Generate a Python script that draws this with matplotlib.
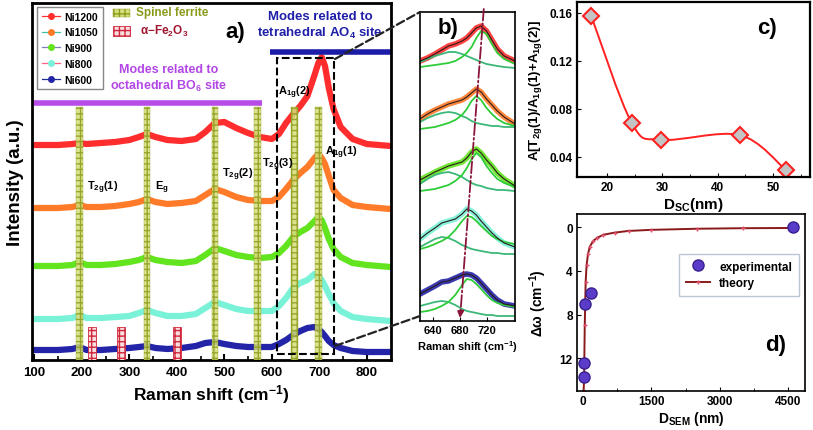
import numpy as np
import matplotlib.pyplot as plt
from matplotlib.lines import Line2D
from matplotlib.patches import Rectangle, PathPatch, ConnectionPatch
from matplotlib.path import Path

plt.rcParams['font.family'] = ['Liberation Sans', 'DejaVu Sans']
plt.rcParams['font.weight'] = 'bold'
plt.rcParams['axes.labelweight'] = 'bold'
plt.rcParams['mathtext.fontset'] = 'custom'
plt.rcParams['mathtext.rm'] = 'Liberation Sans:bold'
plt.rcParams['mathtext.bf'] = 'Liberation Sans:bold'
plt.rcParams['mathtext.it'] = 'Liberation Sans:bold'
plt.rcParams['mathtext.default'] = 'bf'

# ---- panel a: Raman spectra (offset, arbitrary units) ----
shift = [95, 120, 150, 180, 195, 210, 240, 270, 300, 320, 337, 355, 380, 410, 440, 460, 480,
         500, 525, 550, 575, 600, 615, 630, 645, 660, 675, 690, 698, 705, 712, 720, 730, 745,
         770, 800, 850]
ni1200 = [211, 211, 211, 212, 213, 212, 213, 214, 216, 219, 222, 219, 216, 215, 217, 224, 233,
          234, 228, 223, 219, 217, 222, 233, 242, 250, 260, 281, 293, 299, 290, 268, 247, 229,
          217, 212, 210]
ni1050 = [148, 148, 148, 149, 151, 149, 149, 150, 152, 154, 157, 154, 152, 153, 155, 161, 167,
          164, 159, 156, 155, 155, 159, 167, 176, 183, 189, 198, 202, 198, 192, 180, 166, 158,
          151, 149, 147]
ni900 = [90, 90, 90, 91, 94, 91, 91, 92, 94, 96, 99, 96, 94, 93, 95, 101, 108,
         105, 101, 99, 98, 99, 103, 110, 119, 124, 128, 135, 139, 136, 128, 117, 107, 99,
         93, 91, 89]
ni800 = [37, 37, 37, 38, 41, 38, 38, 39, 40, 43, 46, 43, 40, 40, 42, 48, 54,
         51, 47, 45, 45, 45, 50, 58, 68, 73, 76, 82, 80, 76, 70, 62, 53, 45,
         39, 37, 35]
ni600 = [6, 6, 6, 7, 9, 6, 6, 7, 8, 9, 10, 8, 7, 8, 10, 13, 14,
         12, 10, 9, 9, 9, 12, 16, 21, 25, 28, 29, 27, 24, 20, 15, 11, 8,
         5, 4, 4]
samples = ['Ni1200', 'Ni1050', 'Ni900', 'Ni800', 'Ni600']
spinel_modes = [195, 337, 480, 570, 648, 698]
hematite_modes = [222, 282, 400]

# ---- panel b: A1g region, data and two-peak fits ----
b_shift = [621, 632, 643, 653, 663, 673, 683, 690, 697, 704, 711, 719, 727, 735, 745, 761]
b_ni1200 = [10, 13, 17, 21, 25, 27, 30, 33, 38, 43, 45, 40, 31, 22, 15, 10]
b_ni1200_p1 = [9, 12, 15, 17, 19, 19, 17, 15, 13, 11, 9, 7, 6, 5, 4, 3]
b_ni1200_p2 = [4, 5, 6, 7, 8, 10, 14, 18, 24, 33, 40, 37, 27, 18, 12, 7]
b_ni1050 = [13, 18, 22, 25, 28, 30, 32, 35, 39, 43, 40, 33, 27, 21, 15, 8]
b_ni1050_p1 = [10, 14, 17, 19, 20, 19, 16, 14, 11, 9, 8, 7, 6, 6, 5, 5]
b_ni1050_p2 = [3, 4, 5, 7, 9, 12, 17, 23, 31, 36, 32, 24, 18, 13, 9, 6]
b_ni900 = [15, 19, 23, 26, 29, 31, 33, 37, 43, 46, 42, 35, 29, 22, 16, 9]
b_ni900_p1 = [11, 16, 20, 22, 23, 21, 18, 15, 12, 10, 9, 7, 6, 5, 5, 4]
b_ni900_p2 = [4, 5, 6, 8, 10, 14, 20, 27, 36, 42, 38, 29, 22, 16, 12, 8]
b_ni800 = [18, 24, 29, 34, 36, 38, 43, 48, 46, 42, 36, 30, 24, 19, 14, 10]
b_ni800_p1 = [10, 14, 18, 20, 19, 16, 12, 10, 8, 7, 6, 5, 4, 4, 3, 3]
b_ni800_p2 = [8, 10, 13, 16, 20, 27, 36, 41, 40, 36, 31, 26, 21, 18, 15, 13]
b_ni600 = [27, 31, 35, 39, 40, 43, 46, 47, 46, 43, 38, 32, 26, 21, 17, 15]
b_ni600_p1 = [15, 17, 19, 20, 19, 16, 12, 10, 9, 8, 7, 6, 6, 5, 5, 5]
b_ni600_p2 = [9, 10, 12, 15, 19, 26, 36, 42, 41, 37, 32, 26, 21, 18, 16, 14]

# ---- panel c: area ratio vs crystallite size ----
d_sc = [17.2, 24.5, 29.8, 44.0, 52.3]
area_ratio = [0.157, 0.068, 0.054, 0.058, 0.029]

# ---- panel d: Raman shift vs particle size ----
d_sem_exp = [20, 30, 40, 170, 4600]
dw_exp = [13.7, 12.4, 7.0, 6.0, 0.0]
d_sem_th = [15, 25, 40, 60, 80, 110, 150, 220, 300, 450, 700, 1000, 1500, 2500, 3500, 4600]
dw_th = [15, 14, 9, 5, 3.5, 2.5, 1.8, 1.3, 1.0, 0.7, 0.5, 0.35, 0.25, 0.15, 0.1, 0.08]

colors = ['#ff2d2d', '#ff7b29', '#62e41e', '#7af2d8', '#2424a8']
legend_line_colors = ['#ff3030', '#40c0a0', '#8080c0', '#ff6080', '#203090']


def smooth_path(xs, ys):
    # Catmull-Rom style Bezier through the points
    pts = np.column_stack([xs, ys])
    p = np.vstack([pts[0], pts, pts[-1]])
    verts = [pts[0]]
    codes = [Path.MOVETO]
    for i in range(1, len(p) - 2):
        c1 = p[i] + (p[i + 1] - p[i - 1]) / 6
        c2 = p[i + 1] - (p[i + 2] - p[i]) / 6
        verts += [c1, c2, p[i + 1]]
        codes += [Path.CURVE4] * 3
    return Path(verts, codes)


fig = plt.figure(figsize=(8.13, 4.31), dpi=100)
W, H = 813, 431


def place(l, t, r, b):
    return [l / W, 1 - b / H, (r - l) / W, (b - t) / H]


# ================= panel a =================
axa = fig.add_axes(place(32, 4, 391, 361))
spectra = [ni1200, ni1050, ni900, ni800, ni600]
for y, c in zip(spectra, colors):
    axa.plot(shift, y, color=c, lw=4.5, solid_capstyle='round', zorder=2)

axa.bar(spinel_modes, 253, width=14, bottom=-4, color='#d6df7a', edgecolor='#8d9c1c',
        hatch='+++', lw=0.3, alpha=0.85, zorder=3)
axa.bar(hematite_modes, 33, width=17, bottom=-4, color='#f8dede', edgecolor='#d0283c',
        hatch='+++', lw=0.6, zorder=3)

axa.plot([95, 579], [253, 253], color='#b84ce8', lw=4, solid_capstyle='butt')
axa.plot([597, 851], [304, 304], color='#1c1ca8', lw=4, solid_capstyle='butt')
axa.add_patch(Rectangle((610, 2), 121, 296, fill=False, ls='--', lw=1.5, ec='k', zorder=4))

axa.text(382, 278, 'Modes related to\noctahedral BO$_6$ site', color='#b347e6', fontsize=9,
         ha='center', va='center', linespacing=1.25)
axa.text(702, 331, 'Modes related to\ntetrahedral AO$_4$ site', color='#1f1fa8', fontsize=9.5,
         ha='center', va='center', linespacing=1.2)

mode_labels = [(210, 169, 'T$_{2g}$(1)'), (354, 169, 'E$_g$'), (495, 182, 'T$_{2g}$(2)'),
               (579, 192, 'T$_{2g}$(3)'), (613, 264, 'A$_{1g}$(2)'), (712, 204, 'A$_{1g}$(1)')]
for x, y, s in mode_labels:
    axa.text(x, y, s, fontsize=8, ha='left', va='center', zorder=5)

handles = [Line2D([], [], color=lc, lw=0.9, marker='o', ms=4, mfc=c, mec=c)
           for lc, c in zip(legend_line_colors, colors)]
axa.legend(handles, samples, loc='upper left', bbox_to_anchor=(0.014, 0.989), borderaxespad=0,
           fontsize=7.5, frameon=True, fancybox=False, edgecolor='#888888', handlelength=1.8,
           handletextpad=0.4, labelspacing=0.55, borderpad=0.45, framealpha=1)

axa.add_patch(Rectangle((0.2256, 0.961), 0.047, 0.022, transform=axa.transAxes,
                        fc='#d6df7a', ec='#8d9c1c', hatch='+++', lw=0.3))
axa.add_patch(Rectangle((0.2256, 0.908), 0.047, 0.028, transform=axa.transAxes,
                        fc='#f8dede', ec='#d0283c', hatch='+++', lw=0.6))
axa.text(0.29, 0.975, 'Spinel ferrite', transform=axa.transAxes, color='#8c9a1a',
         fontsize=8.5, va='center')
axa.text(0.30, 0.922, 'α−Fe$_2$O$_3$', transform=axa.transAxes, color='#a0142d',
         fontsize=8.5, va='center')
axa.text(0.54, 0.919, 'a)', transform=axa.transAxes, fontsize=16, va='center')

axa.set_xlim(95, 851)
axa.set_ylim(-4, 353)
axa.set_xticks(range(100, 900, 100))
axa.set_xticks(range(150, 850, 100), minor=True)
axa.set_yticks([])
axa.tick_params(axis='x', direction='in', length=4, width=1.5, labelsize=9.5, pad=4)
axa.tick_params(axis='x', which='minor', direction='in', length=3, width=1.2)
for s in axa.spines.values():
    s.set_linewidth(2)
axa.set_xlabel('Raman shift (cm$^{-1}$)', fontsize=12.5, labelpad=3)
axa.set_ylabel('Intensity (a.u.)', fontsize=13.5, labelpad=6)

# ================= panel b =================
axb = fig.add_axes(place(420, 13, 515, 322))
rows = [(b_ni1200, b_ni1200_p1, b_ni1200_p2, 250),
        (b_ni1050, b_ni1050_p1, b_ni1050_p2, 189),
        (b_ni900, b_ni900_p1, b_ni900_p2, 126),
        (b_ni800, b_ni800_p1, b_ni800_p2, 64),
        (b_ni600, b_ni600_p1, b_ni600_p2, 0)]
for (dat, p1, p2, off), c in zip(rows, colors):
    axb.plot(b_shift, np.array(dat) + off, color=c, lw=4, alpha=0.9)
    axb.plot(b_shift, np.array(p1) + off, color='#3cb878', lw=1.3)
    axb.plot(b_shift, np.array(p2) + off, color='#2fcc3a', lw=1.3)
    axb.plot(b_shift, np.array(dat) + off, color='#2a1a1a', lw=0.8)
axb.annotate('', xy=(680, 3), xytext=(715, 312),
             arrowprops=dict(arrowstyle='-|>', ls='-.', color='#8a1538', lw=1.3,
                             mutation_scale=10, shrinkA=0, shrinkB=0))
axb.text(0.19, 0.95, 'b)', transform=axb.transAxes, fontsize=16, va='center')
axb.set_xlim(621, 761)
axb.set_ylim(0, 309)
axb.set_xticks([640, 680, 720])
axb.set_yticks([])
axb.tick_params(axis='x', direction='in', length=3, labelsize=8, pad=3)
for s in axb.spines.values():
    s.set_linewidth(1.2)
axb.set_xlabel('Raman shift (cm$^{-1}$)', fontsize=8, labelpad=2)

# ================= panel c =================
axc = fig.add_axes(place(577, 3, 810, 178))
axc.add_patch(PathPatch(smooth_path(d_sc, area_ratio), fc='none', ec='#ff2020', lw=1.4))
axc.plot(d_sc, area_ratio, ls='none', marker='D', ms=8, mfc='#c4c4c4', mec='#ff2020', mew=1.5)
axc.text(0.773, 0.857, 'c)', transform=axc.transAxes, fontsize=16, va='center')
axc.set_xlim(14.6, 56.7)
axc.set_ylim(0.023, 0.169)
axc.set_xticks([20, 30, 40, 50])
axc.set_yticks([0.04, 0.08, 0.12, 0.16])
axc.set_xticks([25, 35, 45, 55], minor=True)
axc.tick_params(direction='in', length=3, labelsize=8.5, pad=3)
axc.tick_params(which='minor', direction='in', length=2)
for s in axc.spines.values():
    s.set_linewidth(1.6)
axc.set_xlabel('D$_{\\mathregular{SC}}$(nm)', fontsize=11, labelpad=1)
axc.set_ylabel('A[T$_{2g}$(1)/A$_{1g}$(1)+A$_{1g}$(2)]', fontsize=9.5, labelpad=4)

# ================= panel d =================
axd = fig.add_axes(place(577, 215, 805, 392))
axd.plot(d_sem_th, dw_th, color='#8b1a1a', lw=1.4, marker='+', ms=3, mec='#e05070',
         label='theory', zorder=2)
axd.plot(d_sem_exp, dw_exp, ls='none', marker='o', ms=8, mfc='#5a3cc8', mec='#3a2090',
         label='experimental', zorder=3)
h, l = axd.get_legend_handles_labels()
axd.legend(h[::-1], l[::-1], loc='upper right', bbox_to_anchor=(1.0, 0.81), fontsize=8.5,
           fancybox=False, edgecolor='#a8b8c8', handlelength=2.0, borderpad=0.6,
           labelspacing=0.4)
axd.text(0.825, 0.265, 'd)', transform=axd.transAxes, fontsize=16, va='center')
axd.set_xlim(-130, 4870)
axd.set_ylim(15, -1.2)
axd.set_xticks([0, 1500, 3000, 4500])
axd.set_xticks([750, 2250, 3750], minor=True)
axd.set_yticks([0, 4, 8, 12])
axd.tick_params(direction='in', length=3, labelsize=8.5, pad=3)
axd.tick_params(which='minor', direction='in', length=2)
for s in axd.spines.values():
    s.set_linewidth(1.2)
axd.set_xlabel('D$_{\\mathregular{SEM}}$ (nm)', fontsize=10, labelpad=1)
axd.set_ylabel('Δω (cm$^{-1}$)', fontsize=10, labelpad=8)

# ---- zoom connector lines a -> b ----
for ya, yb in [(297, 309), (10, 5)]:
    con = ConnectionPatch(xyA=(733, ya), coordsA='data', axesA=axa,
                          xyB=(621, yb), coordsB='data', axesB=axb,
                          ls='--', lw=1.6, color='#222222')
    fig.add_artist(con)

fig.savefig('out.png', dpi=100)
